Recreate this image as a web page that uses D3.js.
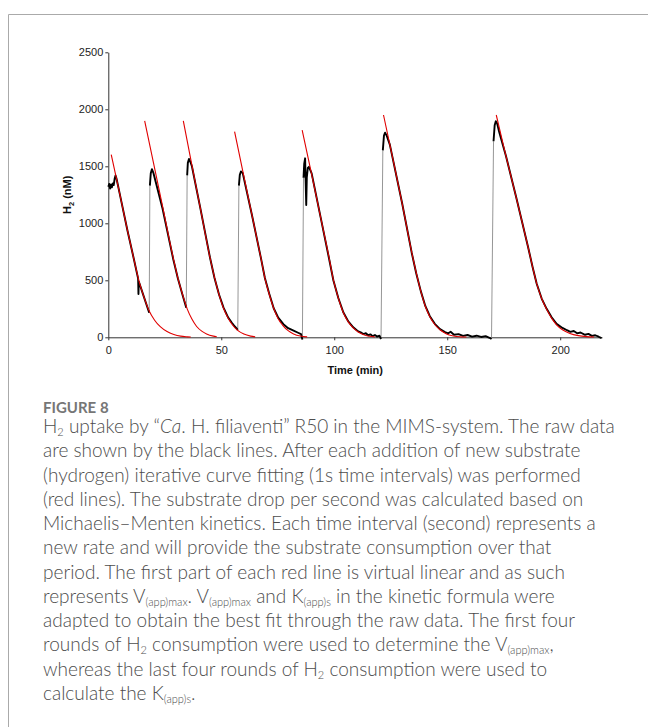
<!DOCTYPE html>
<html>
<head>
<meta charset="utf-8">
<script src="https://cdn.jsdelivr.net/npm/d3@7"></script>
<style>
  html, body { margin: 0; padding: 0; background: #fff; }
  svg { display: block; }
</style>
</head>
<body>
<div id="chart"></div>
<script>
// ─── DATA ─────────────────────────────────────────────────────────────────────
// time in min, H2 in nM
const timeTicks = [0, 50, 100, 150, 200];
const h2Ticks = [0, 500, 1000, 1500, 2000, 2500];

// raw MIMS trace, one array per round of H2 consumption
const raw1 = [[0,1320],[0.4,1345],[0.8,1305],[1.2,1340],[1.6,1315],[2,1350],[2.4,1335],[2.8,1390],[3.2,1420],[3.6,1395],[4.2,1340],[5,1265],[8.5,935],[11.5,670],[13.2,515],[13.35,380],[13.5,490],[15.5,370],[18.1,215]];
const raw2 = [[18.4,1330],[18.8,1440],[19.3,1475],[20,1440],[24,1130],[28.8,680],[30.8,515],[32.8,375],[34.5,260]];
const raw3 = [[34.9,1420],[35.2,1530],[35.7,1565],[36.3,1540],[37,1500],[40.6,1146],[45,700],[47,520],[49,375],[51,260],[53,175],[54.6,130],[56,95],[57.3,65]];
const raw4 = [[57.8,1330],[58.2,1425],[58.7,1455],[59.5,1440],[63.5,1080],[67.6,690],[69.3,520],[71.2,385],[73.2,255],[75.2,172],[77.5,115],[79.6,80],[82,58],[84,40],[85.3,28],[85.9,-20]];
const raw5 = [[86.4,1400],[86.7,1520],[87.1,1570],[87.4,1320],[87.6,1160],[87.85,1400],[88.3,1485],[88.8,1495],[90,1438],[94,1050],[97.6,700],[99.6,500],[101.8,345],[104,220],[106.2,140],[108.4,88],[110.6,52],[112,40],[113,28],[114,36],[115,18],[116,26],[117,10],[118,20],[119,6],[120,14],[120.7,-15]];
const raw6 = [[121.5,1640],[122,1770],[122.5,1795],[123.3,1765],[124.6,1690],[130,1180],[134.3,740],[136.3,560],[138.3,405],[140.3,275],[142.3,185],[144.5,118],[146.8,72],[149,45],[150.5,35],[151.5,48],[153,22],[155,28],[157,12],[159,20],[161,6],[163,14],[165,3],[167,10],[168.7,-4],[169.6,-15]];
const raw7 = [[170.5,1720],[171,1860],[171.5,1895],[172.1,1875],[173,1800],[176,1590],[180.5,1230],[185.8,790],[187.8,615],[189.6,470],[191.8,340],[194,250],[196.2,175],[198.4,118],[201,82],[203,62],[204.5,48],[206,55],[207.5,35],[209,42],[211,22],[212.5,30],[214,12],[215.5,18],[217,5],[218.3,-8]];

// Michaelis-Menten fits (red lines)
const fit1 = [[1.3,1602],[5,1265],[8.5,935],[11.5,670],[13.5,500],[15.5,370],[18,235],[20.5,150],[23,93],[26,50],[29,25],[32,10],[35,4],[36.5,2]];
const fit2 = [[16.1,1898],[20,1530],[24,1150],[28.8,690],[30.8,520],[32.8,380],[35,245],[37,160],[39.1,95],[41.5,52],[43.5,29],[46.5,10],[48,5]];
const fit3 = [[33.2,1898],[36.5,1560],[40.6,1146],[45,700],[47,525],[49,375],[51,255],[53,170],[55,108],[57,65],[60,28],[63,10],[65,4]];
const fit4 = [[55.9,1804],[59.5,1460],[63.5,1080],[67.6,690],[69.3,520],[71.2,380],[73.2,255],[75,170],[77.2,105],[79.6,58],[82,30],[85,11],[88,4]];
const fit5 = [[85.8,1818],[90,1430],[94,1050],[97.6,710],[99.6,505],[101.8,345],[104,218],[106.2,135],[108.4,82],[110.6,46],[112.8,24],[115.5,9],[118,3]];
const fit6 = [[121.8,1950],[126,1560],[130,1180],[134.3,745],[136.3,565],[138.3,405],[140.3,272],[142.3,180],[144.5,112],[146.8,66],[149.5,32],[152.7,12],[156,4],[158.5,2]];
const fit7 = [[171.7,1950],[176,1590],[180.5,1230],[185.8,790],[187.8,615],[189.6,470],[191.8,340],[194,245],[196.2,168],[198.4,110],[201,66],[204.3,34],[208,15],[211.7,6],[215,3]];

const rawRounds = [raw1, raw2, raw3, raw4, raw5, raw6, raw7];
const fitRounds = [fit1, fit2, fit3, fit4, fit5, fit6, fit7];

// caption: each line is a list of [text, style] pieces ("" | "sub" | "i")
const captionTitle = "FIGURE 8";
const captionLines = [
  [["H",""],["2","sub"],[" uptake by \u201c",""],["Ca","i"],[". H. filiaventi\u201d R50 in the MIMS-system. The raw data",""]],
  [["are shown by the black lines. After each addition of new substrate",""]],
  [["(hydrogen) iterative curve fitting (1s time intervals) was performed",""]],
  [["(red lines). The substrate drop per second was calculated based on",""]],
  [["Michaelis\u2013Menten kinetics. Each time interval (second) represents a",""]],
  [["new rate and will provide the substrate consumption over that",""]],
  [["period. The first part of each red line is virtual linear and as such",""]],
  [["represents V",""],["(app)max","sub"],[". V",""],["(app)max","sub"],[" and K",""],["(app)s","sub"],[" in the kinetic formula were",""]],
  [["adapted to obtain the best fit through the raw data. The first four",""]],
  [["rounds of H",""],["2","sub"],[" consumption were used to determine the V",""],["(app)max","sub"],[",",""]],
  [["whereas the last four rounds of H",""],["2","sub"],[" consumption were used to",""]],
  [["calculate the K",""],["(app)s","sub"],[".",""]]
];

// ─── LAYOUT ───────────────────────────────────────────────────────────────────
const W = 648, H = 727;
const svg = d3.select("#chart").append("svg")
  .attr("width", W).attr("height", H);

// figure frame (open to the right and bottom)
svg.append("path")
  .attr("d", `M8.5,${H} V14.5 H${W}`)
  .attr("fill", "none")
  .attr("stroke", "#aaa")
  .attr("stroke-width", 1);

const x = d3.scaleLinear().domain([0, 218.5]).range([108.3, 602]);
const y = d3.scaleLinear().domain([0, 2500]).range([337.3, 52.3]);

const axisFont = "'Liberation Sans', Arial, sans-serif";

// x axis
const gx = svg.append("g")
  .attr("transform", `translate(0,${y(0)})`)
  .call(d3.axisBottom(x).tickValues(timeTicks).tickFormat(d3.format("d"))
    .tickSize(3).tickSizeOuter(0).tickPadding(6));

// y axis
const gy = svg.append("g")
  .attr("transform", `translate(${x(0)},0)`)
  .call(d3.axisLeft(y).tickValues(h2Ticks).tickFormat(d3.format("d"))
    .tickSize(3).tickSizeOuter(0).tickPadding(2));

[gx, gy].forEach(g => {
  g.select(".domain").attr("stroke", "#333");
  g.selectAll(".tick line").attr("stroke", "#333");
  g.selectAll(".tick text")
    .attr("fill", "#222")
    .style("font-family", axisFont)
    .style("font-size", "11px");
});

// axis titles
svg.append("text")
  .attr("x", (x.range()[0] + x.range()[1]) / 2)
  .attr("y", 374)
  .attr("text-anchor", "middle")
  .style("font-family", axisFont)
  .style("font-size", "11px")
  .style("font-weight", "700")
  .attr("fill", "#111")
  .text("Time (min)");

const yTitle = svg.append("text")
  .attr("transform", `translate(71,${(y.range()[0] + y.range()[1]) / 2}) rotate(-90)`)
  .attr("text-anchor", "middle")
  .style("font-family", axisFont)
  .style("font-size", "11px")
  .style("font-weight", "700")
  .attr("fill", "#111");
yTitle.append("tspan").text("H");
yTitle.append("tspan").attr("dy", 3).style("font-size", "7.5px").text("2");
yTitle.append("tspan").attr("dy", -3).text(" (nM)");

// ─── TRACES ───────────────────────────────────────────────────────────────────
const rawLine = d3.line().x(d => x(d[0])).y(d => y(d[1]));
const fitLine = d3.line().x(d => x(d[0])).y(d => y(d[1])).curve(d3.curveMonotoneX);

// each substrate addition: thin grey jump from end of one round to start of next
const jumps = rawRounds.slice(1).map((r, i) => {
  const prev = rawRounds[i];
  return [prev[prev.length - 1], r[0]];
});

svg.append("g")
  .selectAll("path")
  .data(jumps)
  .join("path")
  .attr("d", rawLine)
  .attr("fill", "none")
  .attr("stroke", "#8a8a8a")
  .attr("stroke-width", 0.9);

svg.append("g")
  .selectAll("path")
  .data(rawRounds)
  .join("path")
  .attr("d", rawLine)
  .attr("fill", "none")
  .attr("stroke", "#000")
  .attr("stroke-width", 1.9)
  .attr("stroke-linejoin", "round");

svg.append("g")
  .selectAll("path")
  .data(fitRounds)
  .join("path")
  .attr("d", fitLine)
  .attr("fill", "none")
  .attr("stroke", "#e00000")
  .attr("stroke-width", 1.1);

// ─── CAPTION ──────────────────────────────────────────────────────────────────
const capFont = "Lato, 'Open Sans', sans-serif";
const capX = 43;
const firstLineWidth = 572; // width of the first caption line in the figure
const subDrop = 3;

svg.append("text")
  .attr("x", capX)
  .attr("y", 412.5)
  .style("font-family", capFont)
  .style("font-size", "15px")
  .style("font-weight", "700")
  .attr("fill", "#767676")
  .text(captionTitle);

const lineTop = 433, lineGap = 24.25;
const capTexts = captionLines.map((pieces, i) => {
  const t = svg.append("text")
    .attr("x", capX)
    .attr("y", lineTop + i * lineGap)
    .style("font-family", capFont)
    .style("font-weight", "300")
    .attr("fill", "#4d4d4d");
  let shifted = false;
  pieces.forEach(([txt, kind]) => {
    const ts = t.append("tspan").text(txt);
    if (kind === "sub") {
      ts.attr("dy", shifted ? 0 : subDrop).attr("class", "sub");
      shifted = true;
    } else {
      if (shifted) ts.attr("dy", -subDrop);
      shifted = false;
      if (kind === "i") ts.style("font-style", "italic");
    }
  });
  return t;
});

// size the caption font so the first line spans the same width as the figure
function setCapSize(fs) {
  capTexts.forEach(t => {
    t.style("font-size", fs + "px");
    t.selectAll("tspan.sub").style("font-size", (fs * 0.58) + "px");
  });
}
setCapSize(17);
const w17 = capTexts[0].node().getComputedTextLength();
setCapSize(17 * firstLineWidth / w17);
</script>
</body>
</html>
